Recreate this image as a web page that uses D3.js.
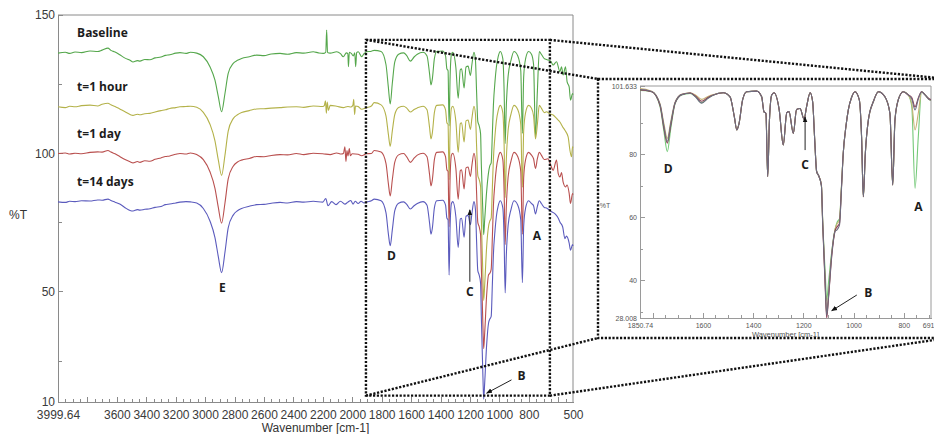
<!DOCTYPE html>
<html lang="en">
<head>
<meta charset="UTF-8">
<title>FTIR spectra over time</title>
<script src="https://d3js.org/d3.v7.min.js"></script>
<style>
    body { margin: 0; background: #fff; }
    svg { display: block; font-family: "Liberation Sans", Arial, sans-serif; }
    .axis path, .axis line { stroke: #8a8a8a; shape-rendering: crispEdges; }
    .axis text { fill: #3a3a3a; font-size: 12px; }
    .inset-axis path, .inset-axis line { stroke: #9a9a9a; shape-rendering: crispEdges; }
    .inset-axis text { fill: #555; font-size: 7px; }
    .tag { font-family: "Open Sans", sans-serif; font-weight: bold; font-size: 12px; fill: #1c1c1c; }
    .dots { fill: none; stroke: #111; stroke-width: 2.4; stroke-dasharray: 2.2 1.6; }
    .spec { fill: none; stroke-width: 1.1; }
</style>
</head>
<body>
<svg id="chart" width="934" height="434"></svg>
<script>
// series + stacking offsets used in the main (overview) plot
const seriesNames = ["Baseline", "t=1 hour", "t=1 day", "t=14 days"];
const stackOffsets = [37, 17.5, 0.5, -17];

// shared fingerprint bands (wavenumber, %T)
const commonBandsA = [[1519,99.5],[1492,98.2],[1475,91.9],[1465,87.7],[1456,89.8],[1442,97.2],[1426,99.8],[1386,100.0],[1366,98.2],[1357,93.5],[1349,92.9],[1342,72.9],[1335,90.8],[1326,98.8],[1317,99.5],[1296,94.0],[1280,82.9],[1266,93.2],[1257,93.5],[1240,86.6],[1227,94.2],[1213,94.5],[1197,91.1],[1187,95.1],[1173,99.5],[1163,96.7],[1155,85.0],[1147,74.5],[1138,73.0]];
const commonBandsB = [[1041,80.3],[1030,89.0],[1021,94.0],[1008,98.0],[994,99.8],[977,97.2],[968,85.5],[961,66.5],[953,80.3],[941,90.8],[921,96.7],[901,99.8],[875,98.2],[855,92.9],[844,70.2],[835,90.8],[822,97.2],[802,99.8],[782,98.8]];

// Baseline
const baselineHigh = [[3999.64,99.2],[3950,99.5],[3920,99.1],[3884,99.6],[3840,99.4],[3782,100.0],[3730,99.8],[3700,100.3],[3660,101.0],[3640,100.2],[3612,99.6],[3580,98.6],[3544,97.4],[3510,96.6],[3490,96.0],[3460,96.5],[3443,96.3],[3410,96.9],[3375,96.8],[3340,97.5],[3300,97.8],[3270,98.4],[3240,98.6],[3200,99.2],[3171,99.4],[3130,99.1],[3100,99.5],[3057,99.2],[3012,97.9],[2967,94.3],[2933,89.4],[2910,83.4],[2888,78.0],[2865,84.6],[2843,91.9],[2809,95.5],[2780,96.6],[2752,97.3],[2700,97.9],[2650,98.5],[2600,98.3],[2550,98.9],[2491,99.1],[2440,98.8],[2380,99.4],[2330,99.2],[2265,99.7],[2230,99.3],[2197,99.1],[2180,99.6],[2174,107.6],[2168,99.4],[2150,99.2],[2106,99.7],[2080,99.0],[2061,97.9],[2040,99.3],[2030,99.0],[2026,94.3],[2020,99.5],[2005,99.0],[1993,98.2],[1983,99.3],[1977,94.3],[1970,99.4],[1959,99.7],[1936,97.9],[1920,99.0],[1903,99.7],[1870,99.9]];
const baselineCarbonyl = [[1850.74,100.2],[1804,99.8],[1771,95.1],[1755,87.0],[1742,80.8],[1728,88.2],[1711,96.0],[1685,98.8],[1651,99.3],[1630,98.3],[1605,96.3],[1580,97.8],[1558,98.8]];
const baselineEther = [[1128,70.0],[1123,59.0],[1112,41.0],[1107,33.5],[1100,39.0],[1087,49.0],[1074,56.0],[1065,58.5],[1056,59.5],[1048,70.0]];
const baselineLow = [[768,95.1],[755,69.2],[742,85.5],[729,99.8],[715,98.8],[695,97.2],[680,96.9],[669,96.7],[650,96.2],[635,94.9],[612,96.1],[589,92.5],[578,94.3],[567,91.3],[551,94.3],[540,88.8],[526,87.0],[517,82.2],[503,84.6],[500,84.2]];

// t=1 hour
const hourHigh = [[3999.64,99.3],[3950,99.0],[3920,99.5],[3884,99.3],[3840,99.7],[3782,99.9],[3730,99.6],[3700,100.2],[3660,100.6],[3640,100.0],[3612,99.4],[3580,98.5],[3544,97.5],[3510,96.5],[3490,96.2],[3460,96.6],[3443,96.4],[3410,96.8],[3375,96.9],[3340,97.4],[3300,97.9],[3270,98.2],[3240,98.7],[3200,99.0],[3171,99.3],[3130,99.4],[3100,99.5],[3057,99.1],[3012,97.3],[2967,93.0],[2933,87.0],[2910,80.0],[2888,74.5],[2865,81.8],[2843,90.5],[2809,95.0],[2780,96.4],[2752,97.2],[2700,97.9],[2650,98.5],[2600,98.6],[2550,98.8],[2491,99.0],[2440,99.2],[2380,99.3],[2330,99.1],[2265,99.6],[2200,99.4],[2190,99.7],[2182,101.5],[2176,97.0],[2170,101.0],[2162,98.0],[2150,99.8],[2106,99.5],[2061,99.0],[2030,99.4],[2010,99.2],[1996,99.8],[1990,102.0],[1984,96.5],[1978,99.6],[1960,99.4],[1936,98.4],[1903,99.0],[1870,99.6]];
const hourCarbonyl = [[1850.74,100.8],[1804,100.0],[1771,96.0],[1755,89.5],[1742,85.0],[1728,90.5],[1711,96.5],[1685,99.0],[1651,99.5],[1630,98.8],[1605,97.4],[1580,98.3],[1558,98.9]];
const hourEther = [[1128,70.5],[1123,59.0],[1112,37.5],[1107,29.2],[1100,35.0],[1087,48.5],[1074,56.0],[1065,58.0],[1056,59.0],[1048,70.0]];
const hourLow = [[768,96.0],[755,87.7],[742,93.0],[729,99.8],[715,98.8],[695,97.2],[680,97.5],[660,96.8],[635,96.3],[610,95.0],[589,93.8],[570,92.0],[555,90.8],[533,88.4],[521,83.6],[510,81.2],[503,84.8],[500,84.5]];

// t=1 day
const dayHigh = [[3999.64,99.4],[3950,99.6],[3920,99.2],[3884,99.5],[3840,99.3],[3782,99.8],[3730,100.0],[3700,99.9],[3660,100.5],[3640,99.9],[3612,99.3],[3580,98.3],[3544,97.2],[3510,96.4],[3490,96.0],[3460,96.5],[3443,96.2],[3410,96.8],[3375,96.6],[3340,97.3],[3300,97.8],[3270,98.3],[3240,98.5],[3200,99.1],[3171,99.4],[3130,99.2],[3100,99.6],[3057,99.0],[3012,97.2],[2967,92.8],[2933,86.8],[2910,79.8],[2888,74.2],[2865,81.5],[2843,90.2],[2809,94.8],[2780,96.3],[2752,97.0],[2700,97.6],[2650,98.3],[2600,98.2],[2550,98.7],[2491,99.0],[2440,98.9],[2380,99.4],[2330,99.0],[2265,99.5],[2200,99.3],[2150,99.0],[2106,99.6],[2075,99.2],[2060,99.4],[2050,101.8],[2043,96.5],[2036,100.5],[2029,98.5],[2020,101.2],[2013,98.6],[2000,99.3],[1960,99.1],[1936,98.6],[1903,99.3],[1870,99.4]];
const dayCarbonyl = [[1850.74,100.5],[1804,99.9],[1771,95.8],[1755,88.7],[1742,84.0],[1728,89.8],[1711,96.3],[1685,98.9],[1651,99.4],[1630,98.2],[1605,96.2],[1580,97.7],[1558,98.8]];
const dayEther = [[1128,70.0],[1123,58.5],[1112,37.0],[1107,28.8],[1100,34.5],[1087,48.0],[1074,55.5],[1066,56.0],[1056,57.5],[1048,69.0]];
const dayLow = [[768,97.5],[755,94.0],[742,97.5],[729,99.8],[715,98.8],[695,97.2],[670,97.5],[650,95.0],[635,93.3],[612,97.0],[600,92.0],[589,90.9],[578,92.5],[567,89.0],[551,87.3],[540,88.0],[526,85.0],[517,81.3],[503,84.9],[500,84.5]];

// t=14 days
const days14High = [[3999.64,99.4],[3950,99.2],[3920,99.6],[3884,99.5],[3840,99.8],[3782,99.7],[3730,100.1],[3700,100.0],[3660,100.4],[3640,99.9],[3612,99.3],[3580,98.6],[3544,97.3],[3510,96.3],[3490,96.1],[3460,96.6],[3443,96.4],[3410,96.7],[3375,96.9],[3340,97.4],[3300,97.7],[3270,98.4],[3240,98.6],[3200,99.0],[3171,99.3],[3130,99.5],[3100,99.4],[3057,99.0],[3012,97.0],[2967,92.5],[2933,86.5],[2910,79.5],[2888,73.8],[2865,81.2],[2843,90.0],[2809,94.6],[2780,96.2],[2752,97.0],[2700,97.8],[2650,98.4],[2600,98.5],[2550,98.9],[2491,99.2],[2440,99.0],[2380,99.5],[2330,99.3],[2265,99.6],[2200,99.3],[2180,100.6],[2165,98.0],[2140,99.5],[2110,98.4],[2080,99.6],[2050,98.6],[2030,99.3],[2010,99.9],[1995,98.6],[1980,99.6],[1960,98.8],[1940,99.6],[1920,99.0],[1900,99.4],[1870,99.8]];
const days14Carbonyl = [[1850.74,100.4],[1804,99.8],[1771,95.5],[1755,88.0],[1742,83.5],[1728,89.2],[1711,96.2],[1685,98.9],[1651,99.4],[1630,98.5],[1605,96.8],[1580,98.0],[1558,98.8]];
const days14Ether = [[1128,70.0],[1123,58.0],[1112,36.0],[1107,28.0],[1100,34.0],[1087,47.5],[1074,55.5],[1065,57.0],[1056,58.0],[1048,69.5]];
const days14Low = [[768,98.0],[755,95.0],[742,97.8],[729,99.8],[715,98.8],[695,97.4],[680,97.2],[650,96.0],[620,95.0],[600,93.5],[589,92.1],[570,90.3],[555,86.1],[545,87.0],[526,84.5],[517,81.9],[503,84.0],[500,83.5]];

// axis ticks
const mainTickLabels = [3999.64, 3600, 3400, 3200, 3000, 2800, 2600, 2400, 2200, 2000, 1800, 1600, 1400, 1200, 1000, 800, 500];
const mainYLabels = [150, 100, 50, 10];
const mainYMinor = [125, 75, 25];
const insetTickLabels = [1850.74, 1600, 1400, 1200, 1000, 800, 691.4];
const insetYLabels = [101.633, 80, 60, 40, 28.008];
const insetYMinor = [90, 70, 50, 30];

// peak annotations: [label, wavenumber, %T] in each panel's units
const mainPeakTags = [["E", 2882, 51.3], ["D", 1733, 63], ["C", 1201, 50], ["A", 745, 70.3], ["B", 849, 19.6]];
const insetPeakTags = [["D", 1738, 75.2], ["C", 1193, 76.6], ["A", 742, 63.3], ["B", 941, 36.0]];
const zoomWindow = { from: 1907, to: 657, top: 141, bottom: 12.3 };

const spectra = [
    [...baselineHigh, ...baselineCarbonyl, ...commonBandsA, ...baselineEther, ...commonBandsB, ...baselineLow],
    [...hourHigh, ...hourCarbonyl, ...commonBandsA, ...hourEther, ...commonBandsB, ...hourLow],
    [...dayHigh, ...dayCarbonyl, ...commonBandsA, ...dayEther, ...commonBandsB, ...dayLow],
    [...days14High, ...days14Carbonyl, ...commonBandsA, ...days14Ether, ...commonBandsB, ...days14Low]
];
const mainColors = ["#55a74c", "#b4b24a", "#b9504f", "#5b5bbd"];
const insetColors = ["#74c978", "#c6b274", "#6e6e80", "#8c3a52"];

const svg = d3.select("#chart");
svg.append("rect").attr("width", 934).attr("height", 434).attr("fill", "#fff");

const xMain = d3.scaleLinear().domain([3999.64, 500]).range([58, 573]);
const yMain = d3.scaleLinear().domain([10, 150]).range([402, 15]);
const xInset = d3.scaleLinear().domain([1850.74, 691.4]).range([640, 931]);
const yInset = d3.scaleLinear().domain([28.008, 101.633]).range([318, 86]);

const defs = svg.append("defs");
defs.append("marker").attr("id", "arrow")
    .attr("viewBox", "0 0 10 10").attr("refX", 9).attr("refY", 5)
    .attr("markerWidth", 6).attr("markerHeight", 6).attr("orient", "auto-start-reverse")
  .append("path").attr("d", "M0,1 L10,5 L0,9 z").attr("fill", "#111");
defs.append("clipPath").attr("id", "inset-clip")
  .append("rect").attr("x", 640).attr("y", 86).attr("width", 291).attr("height", 232);

// ---------- main panel ----------
const fmt = d => String(d);
const majorX = d3.range(600, 3801, 200);
const minorX = d3.range(550, 3999, 50).filter(v => v % 200 !== 0);

svg.append("g").attr("class", "axis").attr("transform", "translate(0,402)")
    .call(d3.axisBottom(xMain).tickValues(minorX).tickSize(-3).tickSizeOuter(0).tickFormat(""));
svg.append("g").attr("class", "axis").attr("transform", "translate(0,402)")
    .call(d3.axisBottom(xMain).tickValues(majorX).tickSize(-5).tickSizeOuter(0).tickFormat(""))
    .select(".domain").remove();
svg.append("g").attr("class", "axis").attr("transform", "translate(0,402)")
    .call(d3.axisBottom(xMain).tickValues(mainTickLabels).tickSize(0).tickPadding(8).tickFormat(fmt))
    .select(".domain").remove();

svg.append("g").attr("class", "axis").attr("transform", "translate(58,0)")
    .call(d3.axisLeft(yMain).tickValues(mainYLabels).tickSize(-5).tickSizeOuter(0).tickPadding(3).tickFormat(fmt));
svg.append("g").attr("class", "axis").attr("transform", "translate(58,0)")
    .call(d3.axisLeft(yMain).tickValues(mainYMinor).tickSize(-4).tickFormat(""))
    .select(".domain").remove();

// frame top + right
svg.append("path").attr("class", "axis")
    .attr("d", `M${xMain(3999.64)},${yMain(150)}H${xMain(500)}V${yMain(10)}`)
    .attr("fill", "none").attr("stroke", "#8a8a8a");

svg.append("text").attr("x", (xMain.range()[0] + xMain.range()[1]) / 2).attr("y", 432)
    .attr("text-anchor", "middle").attr("font-size", 12).attr("fill", "#333")
    .text("Wavenumber [cm-1]");
svg.append("text").attr("x", 18).attr("y", 215).attr("dy", "0.35em")
    .attr("text-anchor", "middle").attr("font-size", 12).attr("fill", "#333").text("%T");

const mainLine = off => d3.line()
    .x(d => xMain(d[0])).y(d => yMain(d[1] + off))
    .curve(d3.curveMonotoneX);

spectra.forEach((s, i) => {
    svg.append("path").attr("class", "spec")
        .attr("d", mainLine(stackOffsets[i])(s))
        .attr("stroke", mainColors[i]);
});

seriesNames.forEach((n, i) => {
    svg.append("text").attr("class", "tag")
        .attr("x", xMain(3870)).attr("y", yMain(106.5 + stackOffsets[i])).attr("dy", "0.35em")
        .text(n);
});

mainPeakTags.forEach(([t, w, v]) => {
    svg.append("text").attr("class", "tag").attr("text-anchor", "middle")
        .attr("x", xMain(w)).attr("y", yMain(v)).attr("dy", "0.35em").text(t);
});
svg.append("line").attr("x1", xMain(1201)).attr("y1", yMain(53.5))
    .attr("x2", xMain(1201)).attr("y2", yMain(79.5))
    .attr("stroke", "#222").attr("stroke-width", 1).attr("marker-end", "url(#arrow)");
svg.append("line").attr("x1", xMain(918)).attr("y1", yMain(18))
    .attr("x2", xMain(1087)).attr("y2", yMain(13.2))
    .attr("stroke", "#222").attr("stroke-width", 1).attr("marker-end", "url(#arrow)");

// ---------- inset ----------
const insetBox = { x0: 598, y0: 79, x1: 948, y1: 338 };
svg.append("rect").attr("x", insetBox.x0).attr("y", insetBox.y0)
    .attr("width", insetBox.x1 - insetBox.x0).attr("height", insetBox.y1 - insetBox.y0)
    .attr("fill", "#fff");

const inset = svg.append("g");
inset.append("g").attr("class", "inset-axis").attr("transform", "translate(0,318)")
    .call(d3.axisBottom(xInset).tickValues(d3.range(700, 1851, 50)).tickSize(-3).tickSizeOuter(0).tickFormat(""));
inset.append("g").attr("class", "inset-axis").attr("transform", "translate(0,318)")
    .call(d3.axisBottom(xInset).tickValues(d3.range(800, 1801, 200)).tickSize(-5).tickFormat(""))
    .select(".domain").remove();
inset.append("g").attr("class", "inset-axis").attr("transform", "translate(0,318)")
    .call(d3.axisBottom(xInset).tickValues(insetTickLabels).tickSize(0).tickPadding(5).tickFormat(fmt))
    .select(".domain").remove();
inset.append("g").attr("class", "inset-axis").attr("transform", "translate(640,0)")
    .call(d3.axisLeft(yInset).tickValues(insetYLabels).tickSize(-5).tickSizeOuter(0).tickPadding(3).tickFormat(fmt));
inset.append("g").attr("class", "inset-axis").attr("transform", "translate(640,0)")
    .call(d3.axisLeft(yInset).tickValues(insetYMinor).tickSize(-3).tickFormat(""))
    .select(".domain").remove();
inset.append("path")
    .attr("d", `M640,86H931V318`).attr("fill", "none").attr("stroke", "#9a9a9a");

inset.append("text").attr("x", 785.5).attr("y", 336.5).attr("text-anchor", "middle")
    .attr("font-size", 7.5).attr("fill", "#555").text("Wavenumber [cm-1]");
inset.append("text").attr("x", 605).attr("y", 206).attr("dy", "0.35em").attr("text-anchor", "middle")
    .attr("font-size", 7).attr("fill", "#555").text("%T");

const insetLine = d3.line().x(d => xInset(d[0])).y(d => yInset(d[1])).curve(d3.curveMonotoneX);
const insetOrder = [0, 1, 3, 2];
const insetPlot = inset.append("g").attr("clip-path", "url(#inset-clip)");
insetOrder.forEach(i => {
    const s = spectra[i].filter(d => d[0] <= 1900 && d[0] >= 660);
    insetPlot.append("path").attr("class", "spec")
        .attr("d", insetLine(s)).attr("stroke", insetColors[i]).attr("stroke-width", 1);
});

insetPeakTags.forEach(([t, w, v]) => {
    inset.append("text").attr("class", "tag").attr("text-anchor", "middle")
        .attr("x", xInset(w)).attr("y", yInset(v)).attr("dy", "0.35em").text(t);
});
inset.append("line").attr("x1", xInset(1193)).attr("y1", yInset(81.3))
    .attr("x2", xInset(1193)).attr("y2", yInset(91.8))
    .attr("stroke", "#222").attr("stroke-width", 1).attr("marker-end", "url(#arrow)");
inset.append("line").attr("x1", xInset(987)).attr("y1", yInset(35.3))
    .attr("x2", xInset(1087)).attr("y2", yInset(30.3))
    .attr("stroke", "#222").attr("stroke-width", 1).attr("marker-end", "url(#arrow)");

// ---------- zoom outlines ----------
const zx0 = xMain(zoomWindow.from), zx1 = xMain(zoomWindow.to);
const zy0 = yMain(zoomWindow.top), zy1 = yMain(zoomWindow.bottom);
svg.append("rect").attr("class", "dots")
    .attr("x", zx0).attr("y", zy0).attr("width", zx1 - zx0).attr("height", zy1 - zy0);
svg.append("rect").attr("class", "dots")
    .attr("x", insetBox.x0).attr("y", insetBox.y0)
    .attr("width", insetBox.x1 - insetBox.x0).attr("height", insetBox.y1 - insetBox.y0);
[[zx0, zy0, insetBox.x0, insetBox.y0], [zx1, zy0, insetBox.x1, insetBox.y0],
 [zx0, zy1, insetBox.x0, insetBox.y1], [zx1, zy1, insetBox.x1, insetBox.y1]].forEach(([a, b, c, d]) => {
    svg.append("line").attr("class", "dots").attr("x1", a).attr("y1", b).attr("x2", c).attr("y2", d);
});
</script>
</body>
</html>
